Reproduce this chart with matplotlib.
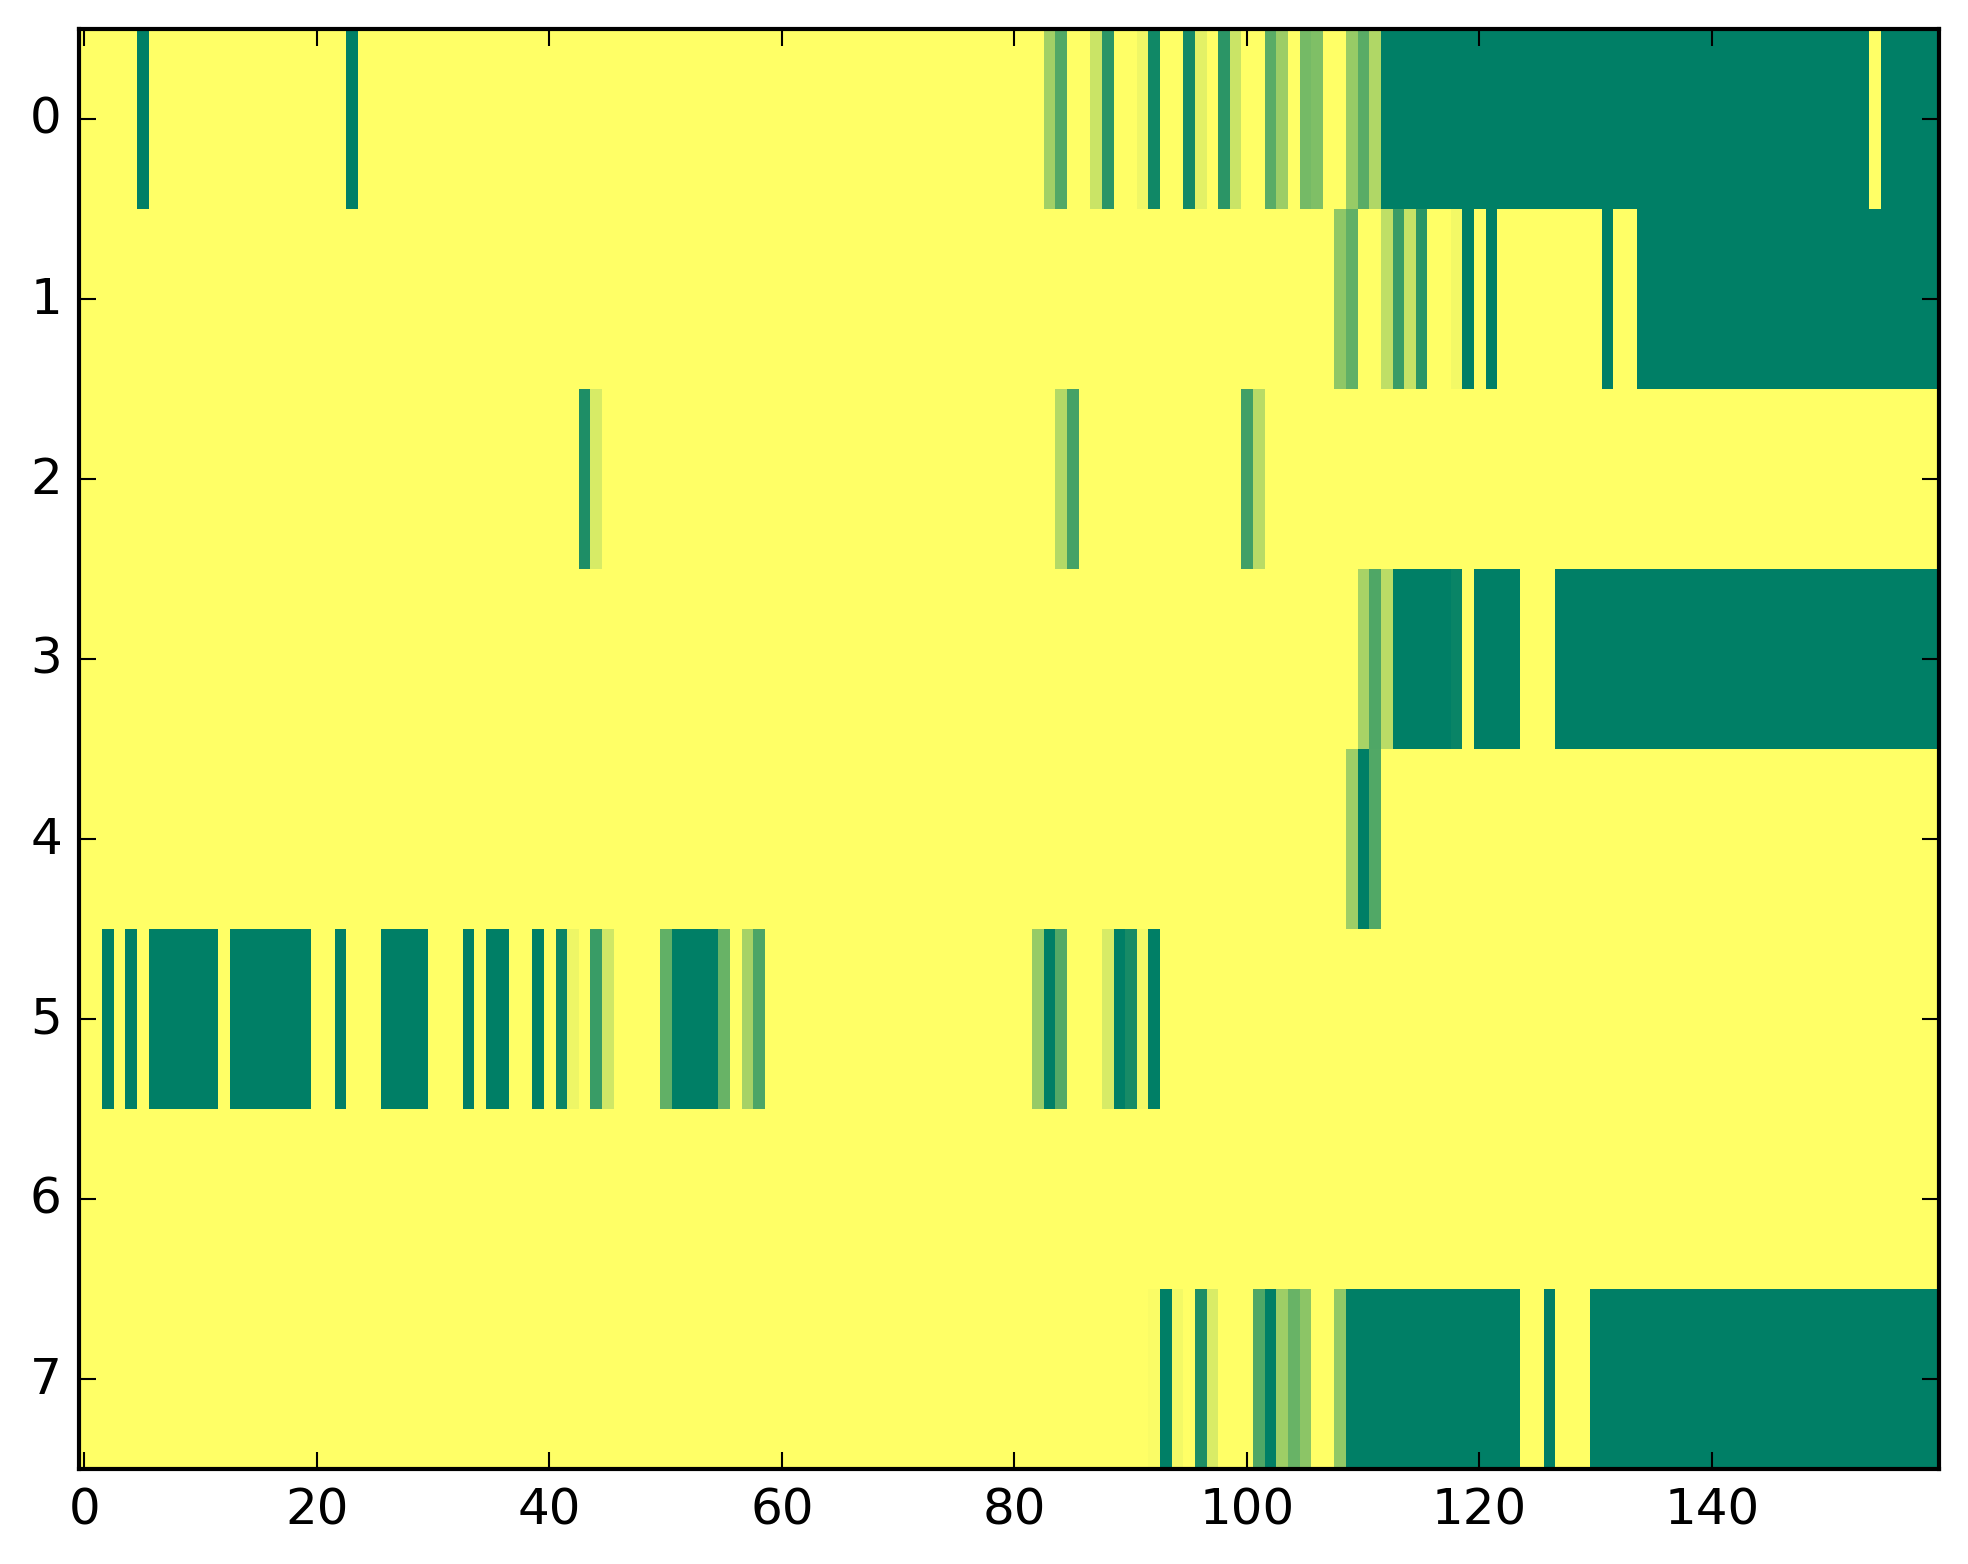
import numpy as np
import matplotlib
matplotlib.use("Agg")
import matplotlib.pyplot as plt

plt.style.use('classic')

n_rows = 8
n_cols = 160

# single cells per row: {column: value}
row0_cells = {5: 1.0, 23: 1.0, 83: 0.37, 84: 0.68, 87: 0.21, 88: 0.83,
              91: 0.06, 92: 0.93, 95: 0.92, 96: 0.11, 98: 0.83, 99: 0.21,
              102: 0.65, 103: 0.39, 105: 0.54, 106: 0.50, 109: 0.41,
              110: 0.65, 111: 0.31}
row1_cells = {108: 0.44, 109: 0.62, 112: 0.25, 113: 0.77, 114: 0.23,
              115: 0.83, 118: 0.05, 119: 1.0, 121: 1.0, 131: 1.0}
row2_cells = {43: 0.88, 44: 0.16, 84: 0.30, 85: 0.73, 100: 0.74, 101: 0.28}
row3_cells = {110: 0.34, 111: 0.69, 112: 0.27, 118: 0.96}
row4_cells = {109: 0.38, 110: 1.0, 111: 0.68}
row5_cells = {2: 1.0, 4: 1.0, 22: 1.0, 33: 1.0, 39: 1.0, 41: 0.95,
              42: 0.07, 44: 0.77, 45: 0.19, 50: 0.62, 55: 0.59, 57: 0.35,
              58: 0.70, 82: 0.41, 83: 1.0, 84: 0.67, 88: 0.16, 89: 1.0,
              90: 0.91, 91: 0.05, 92: 1.0}
row6_cells = {}
row7_cells = {92: 0.02, 93: 1.0, 94: 0.05, 96: 0.88, 97: 0.15, 101: 0.69,
              102: 1.0, 103: 0.38, 104: 0.59, 105: 0.45, 108: 0.43, 126: 1.0}

# runs of full value per row: (first column, last column + 1)
row0_blocks = [(112, 154), (155, 160)]
row1_blocks = [(134, 160)]
row2_blocks = []
row3_blocks = [(113, 118), (120, 124), (127, 160)]
row4_blocks = []
row5_blocks = [(6, 12), (13, 20), (26, 30), (35, 37), (51, 55)]
row6_blocks = []
row7_blocks = [(109, 124), (130, 160)]

all_cells = [row0_cells, row1_cells, row2_cells, row3_cells,
             row4_cells, row5_cells, row6_cells, row7_cells]
all_blocks = [row0_blocks, row1_blocks, row2_blocks, row3_blocks,
              row4_blocks, row5_blocks, row6_blocks, row7_blocks]

data = np.zeros((n_rows, n_cols))
for r in range(n_rows):
    for a, b in all_blocks[r]:
        data[r, a:b] = 1.0
    for c, v in all_cells[r].items():
        data[r, c] = v

fig, ax = plt.subplots(figsize=(8, 6))
ax.imshow(data, cmap='summer_r', aspect='auto', interpolation='nearest',
          vmin=0, vmax=1)
ax.set_xticks(np.arange(0, 141, 20))
ax.set_yticks(np.arange(0, 8))

fig.savefig('out.png', dpi=300, bbox_inches='tight')
